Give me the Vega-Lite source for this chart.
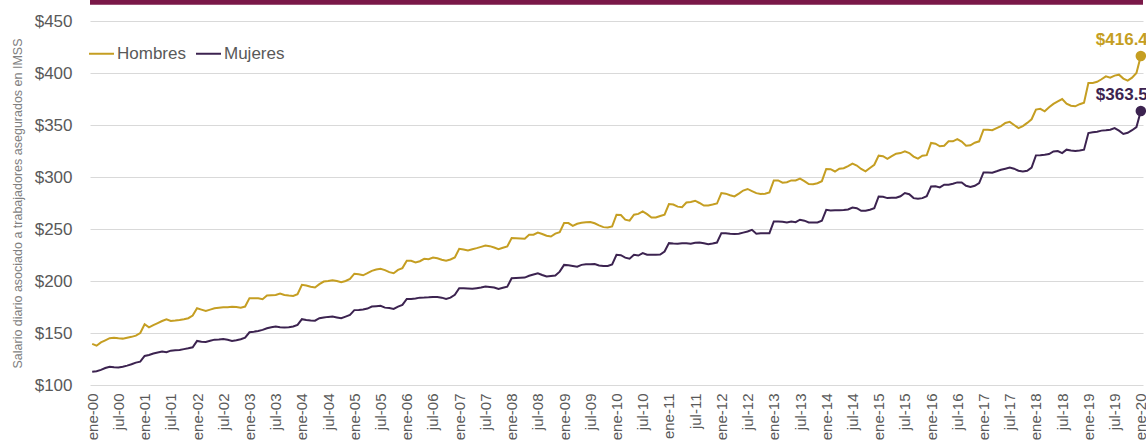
{
"$schema": "https://vega.github.io/schema/vega-lite/v6.json",
"width": 1053, "height": 364,
"autosize": {"type": "none"},
"padding": {"left": 90, "top": 21, "right": 3, "bottom": 61},
"background": "white",
"config": {"view": {"stroke": null}, "font": "Liberation Sans"},
"data": {"values": [
{"t":"ene-00","Hombres":139.5,"Mujeres":112.8},{"t":"feb-00","Hombres":137.8,"Mujeres":113.3},{"t":"mar-00","Hombres":141,"Mujeres":114.5},{"t":"abr-00","Hombres":143,"Mujeres":116.3},{"t":"may-00","Hombres":145,"Mujeres":117.6},{"t":"jun-00","Hombres":145.5,"Mujeres":117},{"t":"jul-00","Hombres":145,"Mujeres":116.8},{"t":"ago-00","Hombres":144.6,"Mujeres":117.6},{"t":"sep-00","Hombres":145.5,"Mujeres":118.6},{"t":"oct-00","Hombres":146.3,"Mujeres":119.9},{"t":"nov-00","Hombres":147.5,"Mujeres":121.5},{"t":"dic-00","Hombres":150,"Mujeres":122.5},
{"t":"ene-01","Hombres":158.4,"Mujeres":127.9},{"t":"feb-01","Hombres":155.5,"Mujeres":128.9},{"t":"mar-01","Hombres":157.5,"Mujeres":130.3},{"t":"abr-01","Hombres":159.5,"Mujeres":131.3},{"t":"may-01","Hombres":161.5,"Mujeres":132.1},{"t":"jun-01","Hombres":163.2,"Mujeres":131.5},{"t":"jul-01","Hombres":161.6,"Mujeres":133},{"t":"ago-01","Hombres":162,"Mujeres":133.3},{"t":"sep-01","Hombres":162.6,"Mujeres":133.6},{"t":"oct-01","Hombres":163.3,"Mujeres":134.5},{"t":"nov-01","Hombres":164.2,"Mujeres":135.3},{"t":"dic-01","Hombres":166.7,"Mujeres":136.3},
{"t":"ene-02","Hombres":173.8,"Mujeres":142.4},{"t":"feb-02","Hombres":172.5,"Mujeres":141.6},{"t":"mar-02","Hombres":171.3,"Mujeres":141.4},{"t":"abr-02","Hombres":172.5,"Mujeres":142.5},{"t":"may-02","Hombres":173.8,"Mujeres":143.6},{"t":"jun-02","Hombres":174.3,"Mujeres":143.8},{"t":"jul-02","Hombres":174.8,"Mujeres":144.3},{"t":"ago-02","Hombres":174.8,"Mujeres":143.5},{"t":"sep-02","Hombres":175.2,"Mujeres":142.4},{"t":"oct-02","Hombres":175,"Mujeres":143},{"t":"nov-02","Hombres":174.4,"Mujeres":144},{"t":"dic-02","Hombres":175.4,"Mujeres":145.5},
{"t":"ene-03","Hombres":183.5,"Mujeres":150.7},{"t":"feb-03","Hombres":183.5,"Mujeres":151.3},{"t":"mar-03","Hombres":183.3,"Mujeres":152},{"t":"abr-03","Hombres":182.5,"Mujeres":153},{"t":"may-03","Hombres":186,"Mujeres":154.5},{"t":"jun-03","Hombres":186.3,"Mujeres":155.5},{"t":"jul-03","Hombres":186.6,"Mujeres":156.2},{"t":"ago-03","Hombres":187.9,"Mujeres":155.6},{"t":"sep-03","Hombres":186.6,"Mujeres":155.2},{"t":"oct-03","Hombres":186,"Mujeres":155.5},{"t":"nov-03","Hombres":185.6,"Mujeres":156.2},{"t":"dic-03","Hombres":187.3,"Mujeres":157.8},
{"t":"ene-04","Hombres":196.3,"Mujeres":163.3},{"t":"feb-04","Hombres":195.7,"Mujeres":162.6},{"t":"mar-04","Hombres":194.5,"Mujeres":162},{"t":"abr-04","Hombres":193.7,"Mujeres":161.8},{"t":"may-04","Hombres":197,"Mujeres":164.2},{"t":"jun-04","Hombres":199.5,"Mujeres":165},{"t":"jul-04","Hombres":200,"Mujeres":165.5},{"t":"ago-04","Hombres":200.8,"Mujeres":165.8},{"t":"sep-04","Hombres":200,"Mujeres":165},{"t":"oct-04","Hombres":198.8,"Mujeres":164.2},{"t":"nov-04","Hombres":200,"Mujeres":165.8},{"t":"dic-04","Hombres":202,"Mujeres":167.4},
{"t":"ene-05","Hombres":207,"Mujeres":172},{"t":"feb-05","Hombres":206.5,"Mujeres":172.2},{"t":"mar-05","Hombres":205.5,"Mujeres":172.6},{"t":"abr-05","Hombres":207.5,"Mujeres":173.5},{"t":"may-05","Hombres":209.8,"Mujeres":175.4},{"t":"jun-05","Hombres":211,"Mujeres":175.8},{"t":"jul-05","Hombres":211.7,"Mujeres":176.1},{"t":"ago-05","Hombres":210.5,"Mujeres":174.4},{"t":"sep-05","Hombres":208.5,"Mujeres":174},{"t":"oct-05","Hombres":207.5,"Mujeres":173.2},{"t":"nov-05","Hombres":210.7,"Mujeres":175.4},{"t":"dic-05","Hombres":212.4,"Mujeres":177},
{"t":"ene-06","Hombres":219.4,"Mujeres":182.8},{"t":"feb-06","Hombres":219.4,"Mujeres":182.8},{"t":"mar-06","Hombres":217.8,"Mujeres":183.2},{"t":"abr-06","Hombres":219,"Mujeres":184},{"t":"may-06","Hombres":221.3,"Mujeres":184.1},{"t":"jun-06","Hombres":221,"Mujeres":184.3},{"t":"jul-06","Hombres":222.6,"Mujeres":184.7},{"t":"ago-06","Hombres":221.8,"Mujeres":184.7},{"t":"sep-06","Hombres":220.5,"Mujeres":184},{"t":"oct-06","Hombres":219.4,"Mujeres":182.8},{"t":"nov-06","Hombres":220.7,"Mujeres":184},{"t":"dic-06","Hombres":222.6,"Mujeres":186.7},
{"t":"ene-07","Hombres":231,"Mujeres":193.1},{"t":"feb-07","Hombres":230.3,"Mujeres":193.1},{"t":"mar-07","Hombres":229.3,"Mujeres":192.8},{"t":"abr-07","Hombres":230.5,"Mujeres":192.5},{"t":"may-07","Hombres":231.6,"Mujeres":193.1},{"t":"jun-07","Hombres":232.8,"Mujeres":193.7},{"t":"jul-07","Hombres":234.1,"Mujeres":194.6},{"t":"ago-07","Hombres":233.5,"Mujeres":194.2},{"t":"sep-07","Hombres":232.2,"Mujeres":193.7},{"t":"oct-07","Hombres":230.6,"Mujeres":192.3},{"t":"nov-07","Hombres":232,"Mujeres":193.5},{"t":"dic-07","Hombres":233.2,"Mujeres":194.6},
{"t":"ene-08","Hombres":241.2,"Mujeres":202.7},{"t":"feb-08","Hombres":241,"Mujeres":203},{"t":"mar-08","Hombres":240.8,"Mujeres":203.2},{"t":"abr-08","Hombres":240.6,"Mujeres":203.3},{"t":"may-08","Hombres":244.4,"Mujeres":205},{"t":"jun-08","Hombres":244.5,"Mujeres":206.3},{"t":"jul-08","Hombres":246.5,"Mujeres":207.5},{"t":"ago-08","Hombres":245.2,"Mujeres":205.8},{"t":"sep-08","Hombres":243.5,"Mujeres":204.3},{"t":"oct-08","Hombres":242.8,"Mujeres":204.8},{"t":"nov-08","Hombres":245.5,"Mujeres":205.3},{"t":"dic-08","Hombres":247,"Mujeres":209},
{"t":"ene-09","Hombres":255.7,"Mujeres":215.5},{"t":"feb-09","Hombres":255.7,"Mujeres":215.2},{"t":"mar-09","Hombres":253,"Mujeres":214.5},{"t":"abr-09","Hombres":255,"Mujeres":213.8},{"t":"may-09","Hombres":256,"Mujeres":215.5},{"t":"jun-09","Hombres":256.6,"Mujeres":216},{"t":"jul-09","Hombres":256.8,"Mujeres":216.2},{"t":"ago-09","Hombres":255.5,"Mujeres":216.4},{"t":"sep-09","Hombres":253.5,"Mujeres":215},{"t":"oct-09","Hombres":251.8,"Mujeres":214.5},{"t":"nov-09","Hombres":251.5,"Mujeres":214.5},{"t":"dic-09","Hombres":252.5,"Mujeres":216},
{"t":"ene-10","Hombres":263.7,"Mujeres":225.2},{"t":"feb-10","Hombres":263.5,"Mujeres":224.8},{"t":"mar-10","Hombres":259,"Mujeres":222.5},{"t":"abr-10","Hombres":258,"Mujeres":221.5},{"t":"may-10","Hombres":263.7,"Mujeres":225.2},{"t":"jun-10","Hombres":264.5,"Mujeres":224.5},{"t":"jul-10","Hombres":266.9,"Mujeres":226.8},{"t":"ago-10","Hombres":264.3,"Mujeres":225.2},{"t":"sep-10","Hombres":261.1,"Mujeres":225.2},{"t":"oct-10","Hombres":261,"Mujeres":225.2},{"t":"nov-10","Hombres":262.5,"Mujeres":225.5},{"t":"dic-10","Hombres":263.7,"Mujeres":228.4},
{"t":"ene-11","Hombres":274,"Mujeres":236.4},{"t":"feb-11","Hombres":273.5,"Mujeres":236},{"t":"mar-11","Hombres":271.5,"Mujeres":235.8},{"t":"abr-11","Hombres":271,"Mujeres":236.2},{"t":"may-11","Hombres":275.5,"Mujeres":236.4},{"t":"jun-11","Hombres":276,"Mujeres":235.8},{"t":"jul-11","Hombres":277.2,"Mujeres":236.7},{"t":"ago-11","Hombres":275,"Mujeres":237},{"t":"sep-11","Hombres":272.6,"Mujeres":236.2},{"t":"oct-11","Hombres":272.6,"Mujeres":235.4},{"t":"nov-11","Hombres":273.5,"Mujeres":236},{"t":"dic-11","Hombres":274.5,"Mujeres":237},
{"t":"ene-12","Hombres":284.6,"Mujeres":246},{"t":"feb-12","Hombres":284,"Mujeres":246},{"t":"mar-12","Hombres":282.5,"Mujeres":245.5},{"t":"abr-12","Hombres":281.3,"Mujeres":245.1},{"t":"may-12","Hombres":284,"Mujeres":245.4},{"t":"jun-12","Hombres":287,"Mujeres":246.5},{"t":"jul-12","Hombres":288.5,"Mujeres":247.6},{"t":"ago-12","Hombres":286.5,"Mujeres":249.2},{"t":"sep-12","Hombres":284.5,"Mujeres":245.4},{"t":"oct-12","Hombres":283.6,"Mujeres":246},{"t":"nov-12","Hombres":284,"Mujeres":246},{"t":"dic-12","Hombres":285.2,"Mujeres":246},
{"t":"ene-13","Hombres":296.7,"Mujeres":257.2},{"t":"feb-13","Hombres":296.7,"Mujeres":257.2},{"t":"mar-13","Hombres":294.5,"Mujeres":257},{"t":"abr-13","Hombres":295,"Mujeres":256.3},{"t":"may-13","Hombres":296.7,"Mujeres":257.2},{"t":"jun-13","Hombres":296.7,"Mujeres":256.5},{"t":"jul-13","Hombres":298.4,"Mujeres":258.9},{"t":"ago-13","Hombres":296,"Mujeres":258},{"t":"sep-13","Hombres":293.2,"Mujeres":256.3},{"t":"oct-13","Hombres":293,"Mujeres":256.3},{"t":"nov-13","Hombres":294,"Mujeres":256.3},{"t":"dic-13","Hombres":296,"Mujeres":257.9},
{"t":"ene-14","Hombres":307.7,"Mujeres":268.5},{"t":"feb-14","Hombres":307.5,"Mujeres":267.8},{"t":"mar-14","Hombres":305.3,"Mujeres":268},{"t":"abr-14","Hombres":308,"Mujeres":268},{"t":"may-14","Hombres":308.5,"Mujeres":268.2},{"t":"jun-14","Hombres":310.5,"Mujeres":268.8},{"t":"jul-14","Hombres":312.8,"Mujeres":270.7},{"t":"ago-14","Hombres":311,"Mujeres":270},{"t":"sep-14","Hombres":307.7,"Mujeres":267.5},{"t":"oct-14","Hombres":305.4,"Mujeres":267.5},{"t":"nov-14","Hombres":308.6,"Mujeres":268.5},{"t":"dic-14","Hombres":311.8,"Mujeres":270},
{"t":"ene-15","Hombres":320.5,"Mujeres":281.3},{"t":"feb-15","Hombres":320,"Mujeres":281},{"t":"mar-15","Hombres":317.5,"Mujeres":279.7},{"t":"abr-15","Hombres":320,"Mujeres":280},{"t":"may-15","Hombres":322.4,"Mujeres":280},{"t":"jun-15","Hombres":323,"Mujeres":281.5},{"t":"jul-15","Hombres":324.6,"Mujeres":284.6},{"t":"ago-15","Hombres":323,"Mujeres":283.5},{"t":"sep-15","Hombres":319.6,"Mujeres":279.7},{"t":"oct-15","Hombres":317.6,"Mujeres":279},{"t":"nov-15","Hombres":320.5,"Mujeres":279.7},{"t":"dic-15","Hombres":321,"Mujeres":281.5},
{"t":"ene-16","Hombres":332.7,"Mujeres":290.9},{"t":"feb-16","Hombres":332,"Mujeres":291},{"t":"mar-16","Hombres":329.5,"Mujeres":290},{"t":"abr-16","Hombres":330,"Mujeres":292.6},{"t":"may-16","Hombres":334.3,"Mujeres":292.6},{"t":"jun-16","Hombres":334.3,"Mujeres":293.5},{"t":"jul-16","Hombres":336.5,"Mujeres":294.8},{"t":"ago-16","Hombres":334,"Mujeres":294.8},{"t":"sep-16","Hombres":330,"Mujeres":291.6},{"t":"oct-16","Hombres":330.5,"Mujeres":290.5},{"t":"nov-16","Hombres":333,"Mujeres":291.5},{"t":"dic-16","Hombres":334.3,"Mujeres":294.2},
{"t":"ene-17","Hombres":345.5,"Mujeres":304.4},{"t":"feb-17","Hombres":345.5,"Mujeres":304.4},{"t":"mar-17","Hombres":345,"Mujeres":304.2},{"t":"abr-17","Hombres":347,"Mujeres":305.5},{"t":"may-17","Hombres":349,"Mujeres":307},{"t":"jun-17","Hombres":352,"Mujeres":308},{"t":"jul-17","Hombres":353,"Mujeres":309},{"t":"ago-17","Hombres":350,"Mujeres":308},{"t":"sep-17","Hombres":347,"Mujeres":306},{"t":"oct-17","Hombres":349,"Mujeres":305.4},{"t":"nov-17","Hombres":352,"Mujeres":306},{"t":"dic-17","Hombres":355.5,"Mujeres":309},
{"t":"ene-18","Hombres":364.8,"Mujeres":320.8},{"t":"feb-18","Hombres":365.5,"Mujeres":321},{"t":"mar-18","Hombres":363.2,"Mujeres":321.5},{"t":"abr-18","Hombres":367,"Mujeres":322.1},{"t":"may-18","Hombres":370.3,"Mujeres":324.6},{"t":"jun-18","Hombres":372.8,"Mujeres":325},{"t":"jul-18","Hombres":375,"Mujeres":323},{"t":"ago-18","Hombres":370.5,"Mujeres":326.3},{"t":"sep-18","Hombres":368.5,"Mujeres":325.5},{"t":"oct-18","Hombres":368,"Mujeres":325},{"t":"nov-18","Hombres":370,"Mujeres":325.5},{"t":"dic-18","Hombres":371.5,"Mujeres":326.3},
{"t":"ene-19","Hombres":390.4,"Mujeres":342.3},{"t":"feb-19","Hombres":390.5,"Mujeres":343},{"t":"mar-19","Hombres":391.5,"Mujeres":343.5},{"t":"abr-19","Hombres":394,"Mujeres":344.6},{"t":"may-19","Hombres":396.8,"Mujeres":345},{"t":"jun-19","Hombres":395.5,"Mujeres":345.5},{"t":"jul-19","Hombres":397.5,"Mujeres":347.1},{"t":"ago-19","Hombres":398.4,"Mujeres":344.6},{"t":"sep-19","Hombres":394.6,"Mujeres":341.4},{"t":"oct-19","Hombres":392.7,"Mujeres":342.5},{"t":"nov-19","Hombres":395.5,"Mujeres":345},{"t":"dic-19","Hombres":400,"Mujeres":348},
{"t":"ene-20","Hombres":416.4,"Mujeres":363.5}
]},
"transform": [{"fold": ["Hombres", "Mujeres"], "as": ["serie", "v"]}],
"layer": [
{
"encoding": {
"x": {"field": "t", "type": "ordinal", "sort": null, "scale": {"type": "point", "padding": 0.5},
"axis": {"title": null, "values": ["ene-00","jul-00","ene-01","jul-01","ene-02","jul-02","ene-03","jul-03","ene-04","jul-04","ene-05","jul-05","ene-06","jul-06","ene-07","jul-07","ene-08","jul-08","ene-09","jul-09","ene-10","jul-10","ene-11","jul-11","ene-12","jul-12","ene-13","jul-13","ene-14","jul-14","ene-15","jul-15","ene-16","jul-16","ene-17","jul-17","ene-18","jul-18","ene-19","jul-19","ene-20"],
"labelAngle": -90, "labelFontSize": 15, "labelColor": "#595959", "labelPadding": 8, "ticks": false, "domain": false, "grid": false, "labelOverlap": false}},
"y": {"field": "v", "type": "quantitative", "scale": {"domain": [100, 450], "nice": false, "zero": false},
"axis": {"title": "Salario diario asociado a trabajadores asegurados en IMSS", "titleFontSize": 12.5, "titleFontWeight": "normal", "titleColor": "#7F7F7F", "titlePadding": 10,
"values": [100,150,200,250,300,350,400,450], "format": "$d", "labelFontSize": 17, "labelColor": "#595959", "labelPadding": 18, "ticks": false, "domain": false, "gridColor": "#D9D9D9", "gridWidth": 1}},
"color": {"field": "serie", "type": "nominal", "scale": {"domain": ["Hombres", "Mujeres"], "range": ["#C59E22", "#3C2350"]},
"legend": {"orient": "none", "legendX": -2, "legendY": 19, "direction": "horizontal", "title": null, "symbolType": "stroke", "symbolSize": 625, "symbolStrokeWidth": 2, "labelFontSize": 17, "labelColor": "#595959", "labelOffset": 2, "columnPadding": 6, "labelLimit": 0}}
},
"layer": [
{"mark": {"type": "line", "strokeWidth": 2}},
{"transform": [{"filter": "datum.t === 'ene-20'"}], "mark": {"type": "point", "filled": true, "size": 110, "opacity": 1}},
{"transform": [{"filter": "datum.t === 'ene-20'"}], "mark": {"type": "text", "align": "right", "baseline": "middle", "dx": 7, "dy": -16, "fontSize": 17, "fontWeight": "bold"}, "encoding": {"text": {"field": "v", "format": "$.1f"}}}
]
},
{
"data": {"values": [{"b": 1}]},
"mark": {"type": "rule", "color": "#7A1848", "strokeWidth": 5, "clip": false},
"encoding": {"y": {"datum": 468, "type": "quantitative"}}
}
]
}
